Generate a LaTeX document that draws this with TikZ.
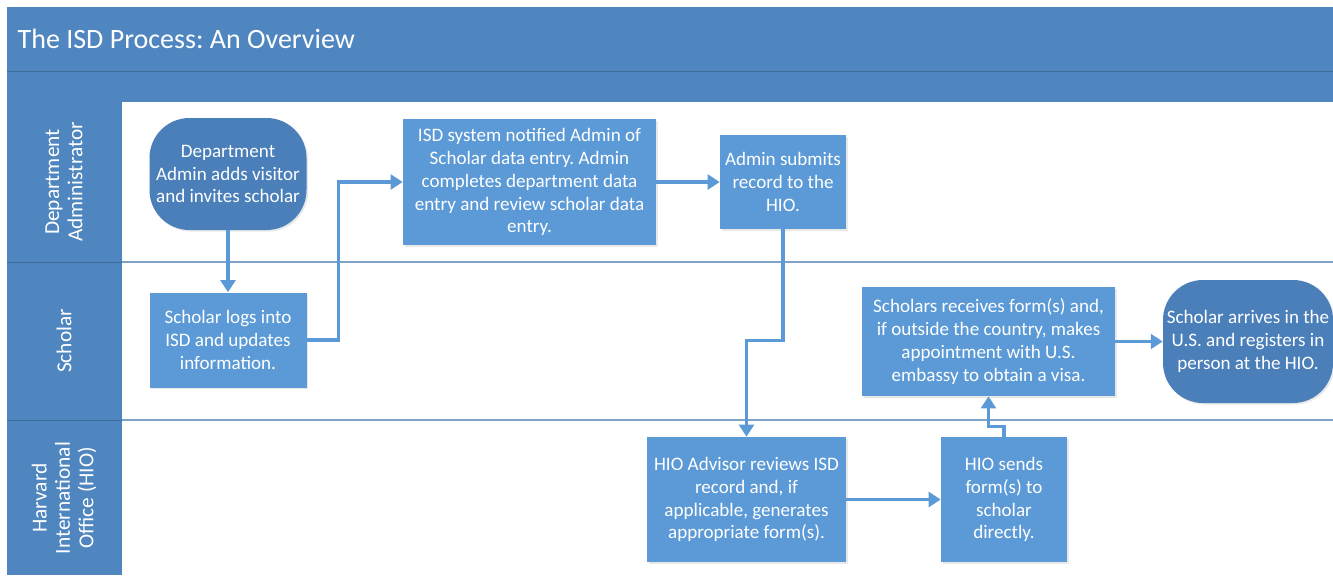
\documentclass[tikz,border=0pt]{standalone}
\usepackage{fontspec}
\setmainfont{Carlito}
\frenchspacing
\usetikzlibrary{arrows.meta,shadows}
\definecolor{headblue}{HTML}{4F86BF}
\definecolor{boxblue}{HTML}{5B9AD6}
\definecolor{termblue}{HTML}{4A7FBA}
\definecolor{laneline}{HTML}{7FA2C8}
\begin{document}
\begin{tikzpicture}[x=0.75pt,y=-0.75pt,
  box/.style={rectangle, fill=boxblue, text=white, align=center, inner sep=0pt,
    font=\fontsize{14.3}{17.2}\selectfont,
    drop shadow={opacity=0.18, shadow xshift=1.2pt, shadow yshift=-1.2pt}},
  term/.style={box, fill=termblue, rounded corners=30pt},
  flow/.style={draw=boxblue, line width=2.4pt, -{Triangle[width=11pt,length=9pt]}},
  lane/.style={text=white, rotate=90, align=center, font=\fontsize{16}{17.5}\selectfont}]
\useasboundingbox (0,0) rectangle (1333,575);
\fill[white] (0,0) rectangle (1333,575);
\fill[headblue] (7,7) rectangle (1333,102);
\fill[headblue] (7,102) rectangle (122,575);
\draw[headblue!80!black, line width=0.6pt] (7,71) -- (1333,71);
\draw[headblue!80!black, line width=0.6pt] (7,262) -- (122,262);
\draw[headblue!80!black, line width=0.6pt] (7,420) -- (122,420);
\draw[laneline, line width=0.8pt] (122,262) -- (1333,262);
\draw[laneline, line width=0.8pt] (122,420) -- (1333,420);
\node[anchor=west, text=white, font=\fontsize{21}{24}\selectfont] (title) at (13,39) {The ISD Process: An Overview};
\node[lane] (ladmin) at (64,182) {Department\\Administrator};
\node[lane] (lscholar) at (64,341) {Scholar};
\node[lane] (lhio) at (64,498) {Harvard\\International\\Office (HIO)};
\node[term, minimum width=117.75pt, minimum height=84pt] (invite) at (228,174) {Department\\Admin adds visitor\\and invites scholar};
\node[box, minimum width=117.75pt, minimum height=71.25pt] (login) at (228,340) {Scholar logs into\\ISD and updates\\information.};
\node[box, minimum width=189.75pt, minimum height=94.5pt] (review) at (529.5,182) {ISD system notified Admin of\\Scholar data entry. Admin\\completes department data\\entry and review scholar data\\entry.};
\node[box, minimum width=94.5pt, minimum height=70.5pt] (submit) at (783,182) {Admin submits\\record to the\\HIO.};
\node[box, minimum width=149.25pt, minimum height=93.75pt] (advisor) at (746.5,499.5) {HIO Advisor reviews ISD\\record and, if\\applicable, generates\\appropriate form(s).};
\node[box, minimum width=94.5pt, minimum height=93.75pt] (sends) at (1004,499.5) {HIO sends\\form(s) to\\scholar\\directly.};
\node[box, minimum width=189.75pt, minimum height=81.75pt] (receive) at (988.5,341.5) {Scholars receives form(s) and,\\if outside the country, makes\\appointment with U.S.\\embassy to obtain a visa.};
\node[term, minimum width=127.5pt, minimum height=92.25pt] (arrive) at (1248,341.5) {Scholar arrives in the\\U.S. and registers in\\person at the HIO.};
\draw[flow] (invite.south) -- (login.north);
\draw[flow] (login.east) -- ++(32,0) |- (review.west);
\draw[flow] (review) -- (submit);
\draw[flow] (submit.south) -- ++(0,111) -| (advisor.north);
\draw[flow] (advisor) -- (sends);
\draw[flow] (sends.north) -- ++(0,-10) -| (receive.south);
\draw[flow] (receive) -- (arrive);
\end{tikzpicture}
\end{document}
